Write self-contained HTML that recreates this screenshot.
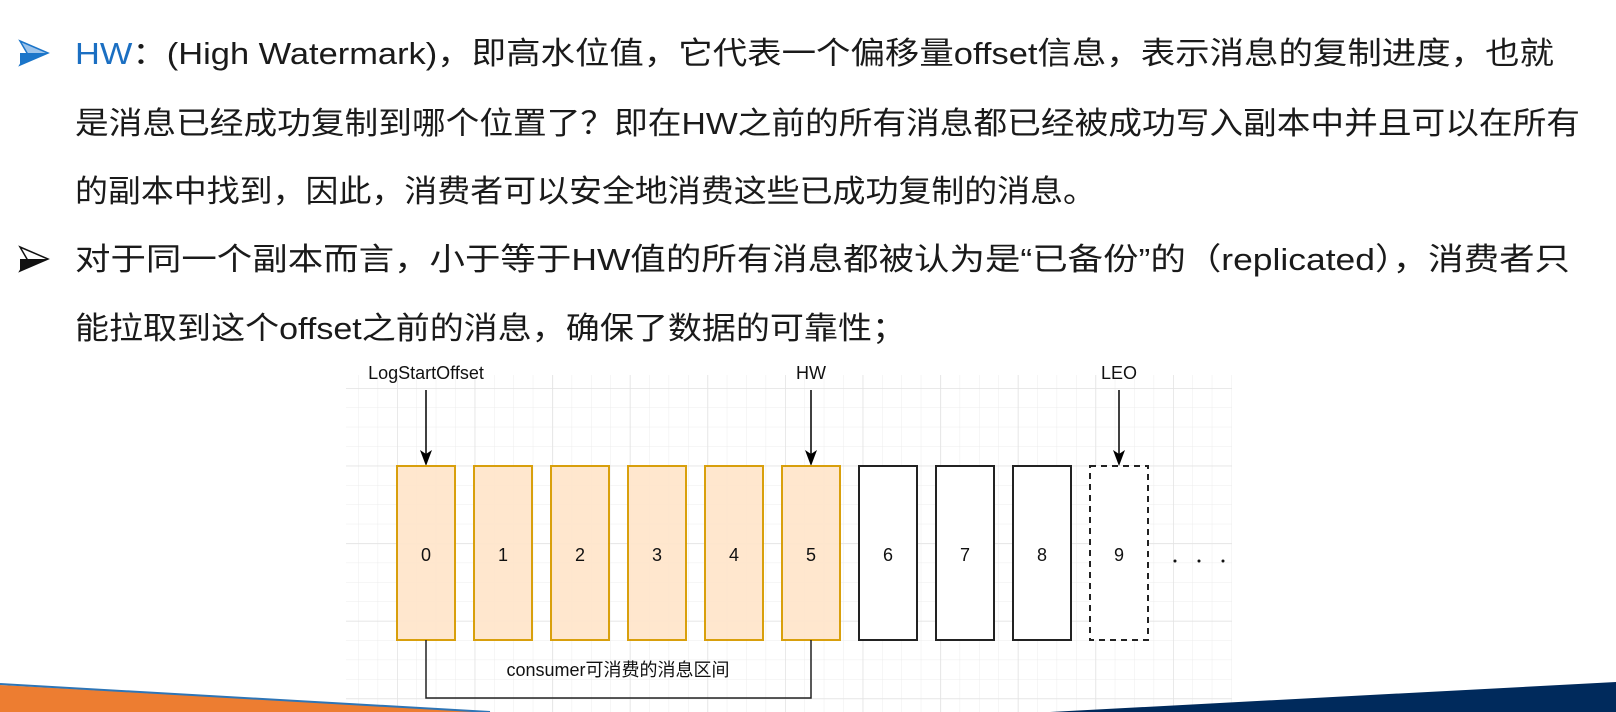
<!DOCTYPE html>
<html><head><meta charset="utf-8"><style>
html,body{margin:0;padding:0;background:#fff;}
svg{display:block;}
</style></head><body>
<svg width="1616" height="712" viewBox="0 0 1616 712" xmlns="http://www.w3.org/2000/svg">
<defs>
<pattern id="g" x="397" y="388" width="19.4" height="19.4" patternUnits="userSpaceOnUse">
<path d="M0 0H19.4M0 0V19.4" stroke="#ececec" stroke-width="1" fill="none"/>
</pattern>
<pattern id="G" x="397" y="388" width="77.6" height="77.6" patternUnits="userSpaceOnUse">
<path d="M0 0H77.6M0 0V77.6" stroke="#e2e2e2" stroke-width="1.5" fill="none"/>
</pattern>
</defs>
<rect x="0" y="0" width="1616" height="712" fill="#fff"/>
<g font-family="'Liberation Sans','Noto Sans CJK SC',sans-serif" font-size="31" fill="#1a1a1a">
<polygon points="20,41 48,53 20,65 27,53" fill="#9cc3ea" stroke="#1b75c9" stroke-width="1.5"/>
<polygon points="20,53 48,53 20,65" fill="#1b75c9"/>
<polygon points="20,247 48,259 20,271 27,259" fill="#fff" stroke="#111" stroke-width="1.5"/>
<polygon points="20,259 48,259 20,271" fill="#111"/>
<text x="75" y="64" textLength="1479" lengthAdjust="spacingAndGlyphs"><tspan fill="#1b6fc2">HW</tspan>：(High Watermark)，即高水位值，它代表一个偏移量offset信息，表示消息的复制进度，也就</text>
<text x="75" y="134" textLength="1505" lengthAdjust="spacingAndGlyphs">是消息已经成功复制到哪个位置了？即在HW之前的所有消息都已经被成功写入副本中并且可以在所有</text>
<text x="75" y="202" textLength="1021" lengthAdjust="spacingAndGlyphs">的副本中找到，因此，消费者可以安全地消费这些已成功复制的消息。</text>
<text x="75" y="270" textLength="1495" lengthAdjust="spacingAndGlyphs">对于同一个副本而言，小于等于HW值的所有消息都被认为是“已备份”的（replicated），消费者只</text>
<text x="75" y="339" textLength="831" lengthAdjust="spacingAndGlyphs">能拉取到这个offset之前的消息，确保了数据的可靠性；</text>
</g>
<rect x="346" y="375" width="886" height="337" fill="url(#g)"/>
<rect x="346" y="375" width="886" height="337" fill="url(#G)"/>
<g font-family="'Liberation Sans',sans-serif" font-size="18" fill="#111" text-anchor="middle">
<text x="426" y="379">LogStartOffset</text>
<text x="811" y="379">HW</text>
<text x="1119" y="379">LEO</text>
</g>
<g stroke="#000" stroke-width="1.5">
<line x1="426" y1="390" x2="426" y2="458"/>
<line x1="811" y1="390" x2="811" y2="458"/>
<line x1="1119" y1="390" x2="1119" y2="458"/>
</g>
<g fill="#000">
<polygon points="420,450 426,466 432,450 426,454"/>
<polygon points="805,450 811,466 817,450 811,454"/>
<polygon points="1113,450 1119,466 1125,450 1119,454"/>
</g>
<g stroke="#d79b00" stroke-width="2" fill="#ffe6cc" opacity="0.95">
<rect x="397" y="466" width="58" height="174"/>
<rect x="474" y="466" width="58" height="174"/>
<rect x="551" y="466" width="58" height="174"/>
<rect x="628" y="466" width="58" height="174"/>
<rect x="705" y="466" width="58" height="174"/>
<rect x="782" y="466" width="58" height="174"/>
</g>
<g stroke="#222" stroke-width="2" fill="#fff">
<rect x="859" y="466" width="58" height="174"/>
<rect x="936" y="466" width="58" height="174"/>
<rect x="1013" y="466" width="58" height="174"/>
<rect x="1090" y="466" width="58" height="174" stroke-dasharray="6,5"/>
</g>
<g font-family="'Liberation Sans',sans-serif" font-size="18" fill="#111" text-anchor="middle">
<text x="426" y="561">0</text><text x="503" y="561">1</text><text x="580" y="561">2</text>
<text x="657" y="561">3</text><text x="734" y="561">4</text><text x="811" y="561">5</text>
<text x="888" y="561">6</text><text x="965" y="561">7</text><text x="1042" y="561">8</text>
<text x="1119" y="561">9</text>
</g>
<g fill="#111">
<circle cx="1175" cy="561" r="1.5"/><circle cx="1199" cy="561" r="1.5"/><circle cx="1223" cy="561" r="1.5"/>
</g>
<polyline points="426,640 426,698 811,698 811,640" fill="none" stroke="#222" stroke-width="1.5"/>
<text x="618" y="676" text-anchor="middle" font-family="'Liberation Sans','Noto Sans CJK SC',sans-serif" font-size="18" fill="#111">consumer可消费的消息区间</text>
<polygon points="0,685 490,712 0,712" fill="#ed7d31"/>
<line x1="0" y1="684" x2="490" y2="712" stroke="#2e75b6" stroke-width="2"/>
<polygon points="1616,682 1616,712 1050,712" fill="#002a5c"/>
</svg>
</body></html>
